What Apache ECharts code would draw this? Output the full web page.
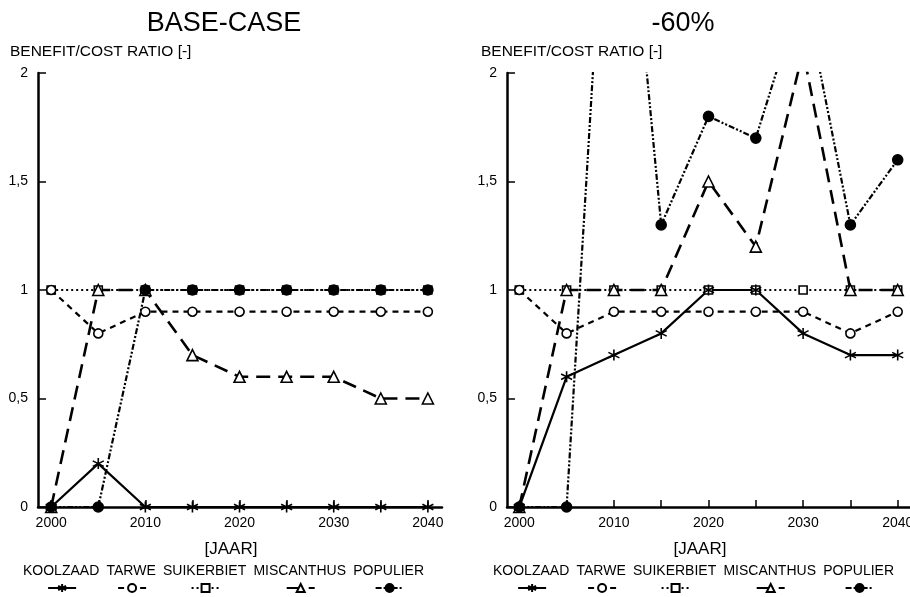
<!DOCTYPE html>
<html>
<head>
<meta charset="utf-8">
<script src="https://cdn.jsdelivr.net/npm/echarts@6/dist/echarts.min.js"></script>
<style>
  html, body { margin: 0; padding: 0; background: #fff; }
  #chart { width: 910px; height: 597px; }
</style>
</head>
<body>
<div id="chart"></div>
<script>
// Years on the horizontal axis
const years = [2000, 2005, 2010, 2015, 2020, 2025, 2030, 2035, 2040];
const crops = ['KOOLZAAD', 'TARWE', 'SUIKERBIET', 'MISCANTHUS', 'POPULIER'];

// BASE-CASE benefit/cost ratios
const baseKoolzaad   = [0, 0.2, 0, 0, 0, 0, 0, 0, 0];
const baseTarwe      = [1, 0.8, 0.9, 0.9, 0.9, 0.9, 0.9, 0.9, 0.9];
const baseSuikerbiet = [1, 1, 1, 1, 1, 1, 1, 1, 1];
const baseMiscanthus = [0, 1, 1, 0.7, 0.6, 0.6, 0.6, 0.5, 0.5];
const basePopulier   = [0, 0, 1, 1, 1, 1, 1, 1, 1];

// -60% benefit/cost ratios (values above 2 run off the top of the plot)
const lowKoolzaad   = [0, 0.6, 0.7, 0.8, 1, 1, 0.8, 0.7, 0.7];
const lowTarwe      = [1, 0.8, 0.9, 0.9, 0.9, 0.9, 0.9, 0.8, 0.9];
const lowSuikerbiet = [1, 1, 1, 1, 1, 1, 1, 1, 1];
const lowMiscanthus = [0, 1, 1, 1, 1.5, 1.2, 2.1, 1, 1];
const lowPopulier   = [0, 0, 3.6, 1.3, 1.8, 1.7, 2.4, 1.3, 1.6];

// Axis ticks
const xTickYears  = [2000, 2005, 2010, 2015, 2020, 2025, 2030, 2035, 2040];
const xLabelYears = [2000, 2010, 2020, 2030, 2040];
const yTickStep = 0.5;

const FONT = '"Liberation Sans", Arial, Helvetica, sans-serif';
const STAR = 'path://M5,0L5,10M0.67,2.5L9.33,7.5M0.67,7.5L9.33,2.5';

const lineLook = {
  KOOLZAAD:   { symbol: STAR,       size: 11, type: 'solid',            width: 2.2, fill: '#000' },
  TARWE:      { symbol: 'circle',   size: 9,  type: [6, 5],             width: 2.2, fill: '#fff' },
  SUIKERBIET: { symbol: 'rect',     size: 8,  type: [2, 3],             width: 2.2, fill: '#fff' },
  MISCANTHUS: { symbol: 'triangle', size: 11, type: [14, 8],            width: 2.6, fill: '#fff' },
  POPULIER:   { symbol: 'circle',   size: 10, type: [6, 2, 2, 2, 2, 2], width: 2.2, fill: '#000' }
};

// drawing order: later series sit on top
const drawOrder = ['SUIKERBIET', 'TARWE', 'KOOLZAAD', 'MISCANTHUS', 'POPULIER'];

const panels = [
  {
    title: 'BASE-CASE', titleX: 224,
    gridLeft: 38, gridWidth: 404, xMin: 1998.6, xMax: 2041.5,
    nameLeft: 10, jaarX: 231, legendLeft: 23, legendRight: 424,
    values: { KOOLZAAD: baseKoolzaad, TARWE: baseTarwe, SUIKERBIET: baseSuikerbiet,
              MISCANTHUS: baseMiscanthus, POPULIER: basePopulier }
  },
  {
    title: '-60%', titleX: 683,
    gridLeft: 507, gridWidth: 403, xMin: 1998.7, xMax: 2041.3,
    nameLeft: 481, jaarX: 700, legendLeft: 493, legendRight: 894,
    values: { KOOLZAAD: lowKoolzaad, TARWE: lowTarwe, SUIKERBIET: lowSuikerbiet,
              MISCANTHUS: lowMiscanthus, POPULIER: lowPopulier }
  }
];

const GRID_TOP = 73, GRID_HEIGHT = 434;
const LEGEND_FONT = 14;

const measureCtx = document.createElement('canvas').getContext('2d');
function textWidth(s, size) {
  measureCtx.font = size + 'px ' + FONT;
  return measureCtx.measureText(s).width;
}

const grid = [], xAxis = [], yAxis = [], series = [], title = [], legend = [];

panels.forEach((p, i) => {
  grid.push({ left: p.gridLeft, top: GRID_TOP, width: p.gridWidth, height: GRID_HEIGHT,
              outerBoundsMode: 'none' });

  xAxis.push({
    type: 'value', gridIndex: i, min: p.xMin, max: p.xMax,
    splitLine: { show: false },
    axisLine: { show: true, onZero: false, lineStyle: { color: '#000', width: 2.5 } },
    axisTick: { show: true, inside: true, length: 7, customValues: xTickYears,
                lineStyle: { color: '#000', width: 1.5 } },
    axisLabel: { customValues: xLabelYears, color: '#000', fontSize: 14, fontFamily: FONT, margin: 9,
                 formatter: v => String(v) }
  });

  yAxis.push({
    type: 'value', gridIndex: i, min: 0, max: 2, interval: yTickStep,
    splitLine: { show: false },
    axisLine: { show: true, lineStyle: { color: '#000', width: 2.5 } },
    axisTick: { show: true, inside: true, length: 8, lineStyle: { color: '#000', width: 1.5 } },
    axisLabel: { color: '#000', fontSize: 14, fontFamily: FONT, margin: 10,
                 formatter: v => String(v).replace('.', ',') }
  });

  drawOrder.forEach(name => {
    const look = lineLook[name];
    series.push({
      type: 'line', name, xAxisIndex: i, yAxisIndex: i,
      data: years.map((y, k) => [y, p.values[name][k]]),
      symbol: look.symbol, symbolSize: look.size, showAllSymbol: true,
      clip: true, silent: true, animation: false,
      lineStyle: { color: '#000', width: look.width, type: look.type },
      itemStyle: { color: look.fill, borderColor: '#000', borderWidth: 1.6 },
      emphasis: { disabled: true }
    });
  });

  title.push({ text: p.title, left: p.titleX, top: 10, textAlign: 'center', padding: 0,
               textStyle: { fontFamily: FONT, fontSize: 27, fontWeight: 'normal', color: '#000' } });
  title.push({ text: 'BENEFIT/COST RATIO [-]', left: p.nameLeft, top: 44, padding: 0,
               textStyle: { fontFamily: FONT, fontSize: 15.5, fontWeight: 'normal', color: '#000' } });
  title.push({ text: '[JAAR]', left: p.jaarX, top: 541, textAlign: 'center', padding: 0,
               textStyle: { fontFamily: FONT, fontSize: 17, fontWeight: 'normal', color: '#000' } });

  // crop names in one row, each line sample centred under its name
  const widths = crops.map(c => textWidth(c, LEGEND_FONT));
  const total = widths.reduce((a, b) => a + b, 0);
  const gap = (p.legendRight - p.legendLeft - total) / (crops.length - 1);
  let x = p.legendLeft;
  crops.forEach((c, k) => {
    const cx = x + widths[k] / 2;
    title.push({ text: c, left: cx, top: 564, textAlign: 'center', padding: 0,
                 textStyle: { fontFamily: FONT, fontSize: LEGEND_FONT, fontWeight: 'normal', color: '#000' } });
    legend.push({ data: [c], left: cx - 14, top: 583, padding: 0, itemWidth: 28, itemHeight: 10,
                  selectedMode: false, formatter: () => '', textStyle: { fontSize: 1 } });
    x += widths[k] + gap;
  });
});

const chart = echarts.init(document.getElementById('chart'), null, { renderer: 'canvas' });
chart.setOption({ animation: false, backgroundColor: '#fff', grid, xAxis, yAxis, series, title, legend });
</script>
</body>
</html>
